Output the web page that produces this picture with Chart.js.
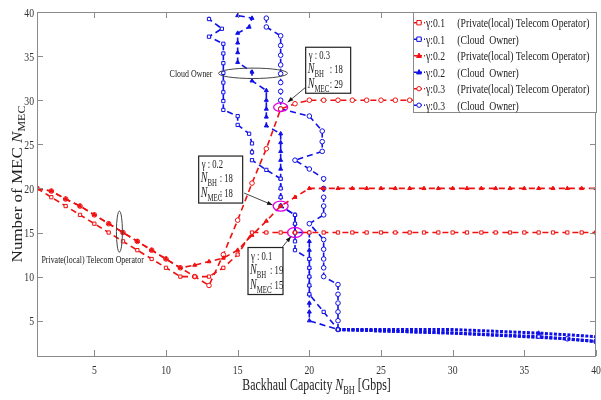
<!DOCTYPE html>
<html><head><meta charset="utf-8">
<script src="https://cdn.jsdelivr.net/npm/chart.js@4.4.1/dist/chart.umd.min.js"></script>
<style>html,body{margin:0;padding:0;background:#fff;}canvas{display:block;}</style>
</head><body>
<canvas id="c" width="601" height="400"></canvas>
<script>
// ---------- data ----------
const xTicks = [5, 10, 15, 20, 25, 30, 35, 40];
const yTicks = [5, 10, 15, 20, 25, 30, 35, 40];

// Private (local) telecom operator : N_MEC vs N_BH (1..40)
const nbh = [1,2,3,4,5,6,7,8,9,10,11,12,13,14,15,16,17,18,19,20,21,22,23,24,25,26,27,28,29,30,31,32,33,34,35,36,37,38,39,40];
const privG01 = [20,19,18,17,16,15,14,13,12,11,10,10,10,11,12.5,15,15,15,15,15,15,15,15,15,15,15,15,15,15,15,15,15,15,15,15,15,15,15,15,15];
const privG02 = [20,19.7,18.8,18,17,16,15,14,13,12,11,11.3,11.7,12.1,13,14.7,16.3,18,19,20,20,20,20,20,20,20,20,20,20,20,20,20,20,20,20,20,20,20,20,20];
const privG03 = [20,19.7,18.8,18,17,16,15,14,13,12,11,10,9,12.5,16.4,20.6,24.5,29,29.6,30,30,30,30,30,30,30,30,30,30,30,30,30,30,30,30,30,30,30,30,30];

// Cloud owner paths
const cloudG01X = [13,13,13.9,13,14,14,14,14,14,14,14,14,15,15,15.8,16,16,16,17,18,18,18,18,19,19,19,19,19,20,20,20,20,20,21,22,30,36,40];
const cloudG01Y = [40.6,39.2,38.1,37.2,36.4,35.3,34.2,33.1,32,30.9,29.9,28.9,28.2,27.2,26.2,25.1,24.1,23.2,22.1,21.1,20,19,18,17,16,15,14,13,12,11,10,9,8,6,4,3.6,3.2,2.65];
const cloudG02X = [15,15,16,15.8,15,15,15,15,16,16,17,17,17,17,17,18,18,18,18,18,18,18,18,18,19,19,19,20,20,20,20,20,20,20,20,20,20,20,22,30,36,40];
const cloudG02Y = [40.6,39.6,39.3,38.3,37.6,36.5,35.4,34.3,33.2,32.2,31.1,30,29,28.1,27.1,26.2,25.2,24.2,23.2,22.2,21.1,20,19,18,17,16,15,15,14,13,12,11,10,9,8,7,6,5,4,4,3.6,3.2,2.65];
const cloudG03X = [17,17,17,18,18,18,18,18,18,18,18,18,20,20.9,20.9,20.9,19,20,21,21,21,21,21,20,21,21,21,21,21,22,22,22,22,22,22,30,38,40];
const cloudG03Y = [40.6,39.3,38.3,37.3,36.2,35.1,34,33,32,31,30,29,28.2,26.5,25.3,24.2,23.2,22.2,21.1,20,19,18,17,16,14.2,13.1,12,11,10,9.1,8,7,6,5,4,3.6,2.95,2.65];

const legendGamma = ['γ:0.1', 'γ:0.1', 'γ:0.2', 'γ:0.2', 'γ:0.3', 'γ:0.3'];
const legendOwner = ['(Private(local) Telecom Operator)', '(Cloud  Owner)', '(Private(local) Telecom Operator)', '(Cloud  Owner)', '(Private(local) Telecom Operator)', '(Cloud  Owner)'];

// ---------- styling ----------
const RED = 'rgb(240,16,16)';
const BLUE = 'rgb(16,16,232)';
const FONT = "'Liberation Serif', 'Times New Roman', serif";
const SX = 0.72;

function pts(xs, ys) { return xs.map((x, i) => ({ x: x, y: ys[i] })); }
const isTail = c => c.p0.parsed.x >= 21.9 && c.p0.parsed.y < 4.5;
function ds(label, data, color, style, fill) {
  return {
    label, data, borderColor: color, backgroundColor: fill,
    pointBorderColor: color, pointBackgroundColor: fill, pointStyle: style,
    pointRadius: c => (c.raw && c.raw.y < 4.5 && c.raw.x > 22.5 && c.raw.x < 35) ? 0 : 2.3,
    pointBorderWidth: 1, borderWidth: 1.6, borderDash: [6, 4],
    showLine: true, fill: false, tension: 0,
    segment: {
      borderWidth: c => isTail(c) ? 3 : 1.6,
      borderDash: c => isTail(c) ? [3, 1.5] : [6, 4]
    }
  };
}
const datasets = [
  ds('γ:0.1 (Private(local) Telecom Operator)', pts(nbh, privG01), RED, 'rect', '#fff'),
  ds('γ:0.2 (Private(local) Telecom Operator)', pts(nbh, privG02), RED, 'triangle', RED),
  ds('γ:0.3 (Private(local) Telecom Operator)', pts(nbh, privG03), RED, 'circle', '#fff'),
  ds('γ:0.1 (Cloud Owner)', pts(cloudG01X, cloudG01Y), BLUE, 'rect', '#fff'),
  ds('γ:0.2 (Cloud Owner)', pts(cloudG02X, cloudG02Y), BLUE, 'triangle', BLUE),
  ds('γ:0.3 (Cloud Owner)', pts(cloudG03X, cloudG03Y), BLUE, 'circle', '#fff')
];
const legendStyle = [['rect', RED, '#fff'], ['rect', BLUE, '#fff'], ['triangle', RED, RED], ['triangle', BLUE, BLUE], ['circle', RED, '#fff'], ['circle', BLUE, '#fff']];

// ---------- text helpers ----------
function rich(ctx, parts, x, y, align, sx) {
  let w = 0;
  parts.forEach(p => { ctx.font = (p.it ? 'italic ' : '') + p.s + 'px ' + FONT; p.w = ctx.measureText(p.t).width; w += p.w; });
  let x0 = align === 'center' ? x - w * sx / 2 : align === 'right' ? x - w * sx : x;
  ctx.save(); ctx.translate(x0, y); ctx.scale(sx, 1); ctx.textAlign = 'left'; ctx.textBaseline = 'alphabetic';
  let cx = 0;
  parts.forEach(p => { ctx.font = (p.it ? 'italic ' : '') + p.s + 'px ' + FONT; ctx.fillText(p.t, cx, p.dy || 0); cx += p.w; });
  ctx.restore();
  return w * sx;
}
function marker(ctx, style, x, y, r, stroke, fill) {
  ctx.save(); ctx.setLineDash([]); ctx.lineWidth = 1; ctx.strokeStyle = stroke; ctx.fillStyle = fill;
  ctx.beginPath();
  if (style === 'rect') ctx.rect(x - r, y - r, 2 * r, 2 * r);
  else if (style === 'triangle') { ctx.moveTo(x, y - r * 1.2); ctx.lineTo(x + r * 1.1, y + r * 0.8); ctx.lineTo(x - r * 1.1, y + r * 0.8); ctx.closePath(); }
  else ctx.arc(x, y, r, 0, Math.PI * 2);
  ctx.fill(); ctx.stroke(); ctx.restore();
}
function annBox(ctx, ax, ay, bx, by, bw, bh, colon, g, nbhV, nmecV, from, to) {
  const L = ax + bx, T = ay + by;
  ctx.save();
  ctx.fillStyle = '#fff'; ctx.fillRect(L, T, bw, bh);
  ctx.strokeStyle = '#222'; ctx.lineWidth = 1.2; ctx.setLineDash([]); ctx.strokeRect(L, T, bw, bh);
  ctx.fillStyle = '#222';
  rich(ctx, [{ t: 'γ : ' + g, s: 12 }], L + 3, T + 12, 'left', SX);
  rich(ctx, [{ t: 'N', s: 14, it: true }, { t: 'BH', s: 9.5, dy: 4 }], L + 2, T + 26, 'left', SX);
  rich(ctx, [{ t: ': ' + nbhV, s: 12 }], L + colon, T + 26, 'left', SX);
  rich(ctx, [{ t: 'N', s: 14, it: true }, { t: 'MEC', s: 9.5, dy: 4 }], L + 2, T + 41, 'left', SX);
  rich(ctx, [{ t: ': ' + nmecV, s: 12 }], L + colon, T + 41, 'left', SX);
  const x1 = ax + from[0], y1 = ay + from[1], x2 = ax + to[0], y2 = ay + to[1];
  ctx.strokeStyle = '#333'; ctx.lineWidth = 0.9;
  ctx.beginPath(); ctx.moveTo(x1, y1); ctx.lineTo(x2, y2); ctx.stroke();
  const a = Math.atan2(y2 - y1, x2 - x1);
  ctx.fillStyle = '#111'; ctx.beginPath(); ctx.moveTo(x2, y2);
  ctx.lineTo(x2 - 6 * Math.cos(a - 0.35), y2 - 6 * Math.sin(a - 0.35));
  ctx.lineTo(x2 - 6 * Math.cos(a + 0.35), y2 - 6 * Math.sin(a + 0.35)); ctx.closePath(); ctx.fill();
  ctx.restore();
}
function ellipse(ctx, x, y, rx, ry, color, lw) {
  ctx.save(); ctx.setLineDash([]); ctx.strokeStyle = color; ctx.lineWidth = lw;
  ctx.beginPath(); ctx.ellipse(x, y, rx, ry, 0, 0, Math.PI * 2); ctx.stroke(); ctx.restore();
}

const decor = {
  id: 'decor',
  afterDatasetsDraw(chart) {
    const ctx = chart.ctx, a = chart.chartArea, xs = chart.scales.x, ys = chart.scales.y;
    ctx.save();
    ctx.strokeStyle = '#8a8a8a'; ctx.lineWidth = 1; ctx.setLineDash([]);
    ctx.strokeRect(a.left + 0.5, a.top + 0.5, a.right - a.left - 1, a.bottom - a.top);
    ctx.beginPath();
    xTicks.forEach(v => { const p = Math.round(xs.getPixelForValue(v)) + 0.5; ctx.moveTo(p, a.bottom); ctx.lineTo(p, a.bottom - 6); ctx.moveTo(p, a.top); ctx.lineTo(p, a.top + 6); });
    yTicks.forEach(v => { const p = Math.round(ys.getPixelForValue(v)) + 0.5; ctx.moveTo(a.left, p); ctx.lineTo(a.left + 6, p); ctx.moveTo(a.right, p); ctx.lineTo(a.right - 6, p); });
    ctx.stroke();
    ctx.fillStyle = '#333';
    xTicks.forEach(v => rich(ctx, [{ t: String(v), s: 13.5 }], xs.getPixelForValue(v), a.bottom + 18, 'center', SX));
    yTicks.forEach(v => rich(ctx, [{ t: String(v), s: 13.5 }], a.left - 3, ys.getPixelForValue(v) + 4.5, 'right', SX));
    ctx.fillStyle = '#222';
    rich(ctx, [{ t: 'Backhaul Capacity ', s: 16.5 }, { t: 'N', s: 16.5, it: true }, { t: 'BH', s: 11.5, dy: 4 }, { t: ' [Gbps]', s: 16.5 }], (a.left + a.right) / 2, 390, 'center', SX);
    ctx.save();
    ctx.translate(22, (a.top + a.bottom) / 2); ctx.rotate(-Math.PI / 2); ctx.scale(1, 0.85);
    rich(ctx, [{ t: 'Number of MEC ', s: 17 }, { t: 'N', s: 17, it: true }, { t: 'MEC', s: 12, dy: 4 }], 0, 0, 'center', 1);
    ctx.restore();

    const cx = xs.getPixelForValue(16.07), cy = ys.getPixelForValue(33.05);
    ellipse(ctx, cx, cy, 34.5, 5.2, '#444', 1);
    ctx.fillStyle = '#222';
    rich(ctx, [{ t: 'Cloud Owner', s: 11 }], cx - 40.5, cy + 3.5, 'right', SX);
    const px = xs.getPixelForValue(6.75), py = ys.getPixelForValue(15.1);
    ellipse(ctx, px, py, 3, 20.5, '#444', 1);
    rich(ctx, [{ t: 'Private(local) Telecom Operator', s: 11 }], px - 78, py + 31, 'left', SX);

    const MAG = 'rgb(225,0,225)';
    const i3 = [xs.getPixelForValue(18), ys.getPixelForValue(29.2)];
    const i2 = [xs.getPixelForValue(18), ys.getPixelForValue(18)];
    const i1 = [xs.getPixelForValue(19), ys.getPixelForValue(15)];
    ellipse(ctx, i3[0], i3[1], 7, 4.3, MAG, 1.3);
    ellipse(ctx, i2[0], i2[1], 7.5, 5, MAG, 1.3);
    ellipse(ctx, i1[0], i1[1], 7.5, 5, MAG, 1.3);
    annBox(ctx, i3[0], i3[1], 25, -60, 45, 46, 24, '0.3', 18, 29, [25, -20], [7, -5]);
    annBox(ctx, i2[0], i2[1], -82, -50, 44, 47, 21, '0.2', 18, 18, [-36.5, -13], [-8, -1]);
    annBox(ctx, i1[0], i1[1], -47, 15, 35, 47, 22, '0.1', 19, 15, [-13, 15], [-4, 4]);

    const LX = 413, LT = a.top, LR = 596, LB = 112;
    ctx.fillStyle = '#fff'; ctx.fillRect(LX, LT, LR - LX, LB - LT);
    ctx.strokeStyle = '#8a8a8a'; ctx.lineWidth = 1; ctx.strokeRect(LX + 0.5, LT + 0.5, LR - LX, LB - LT);
    legendGamma.forEach((g, i) => {
      const y = LT + 10.7 + i * 16.5;
      const st = legendStyle[i];
      ctx.save(); ctx.strokeStyle = st[1]; ctx.lineWidth = 1.5; ctx.setLineDash([3, 2]);
      ctx.beginPath(); ctx.moveTo(414, y); ctx.lineTo(425, y); ctx.stroke(); ctx.restore();
      marker(ctx, st[0], 419, y, 2.2, st[1], st[2]);
      ctx.fillStyle = '#222';
      rich(ctx, [{ t: g, s: 13.5 }], 426, y + 4.5, 'left', SX);
      rich(ctx, [{ t: legendOwner[i], s: 13.5 }], 457.3, y + 4.5, 'left', SX);
    });
    ctx.restore();
  }
};

new Chart(document.getElementById('c'), {
  type: 'line',
  data: { datasets: datasets },
  options: {
    responsive: false, animation: false, devicePixelRatio: 1,
    layout: { padding: { left: 37, right: 3, top: 12, bottom: 44 } },
    scales: {
      x: { type: 'linear', min: 1, max: 40, display: false },
      y: { type: 'linear', min: 1, max: 40, display: false }
    },
    plugins: { legend: { display: false }, tooltip: { enabled: false } }
  },
  plugins: [decor]
});
</script>
</body></html>
